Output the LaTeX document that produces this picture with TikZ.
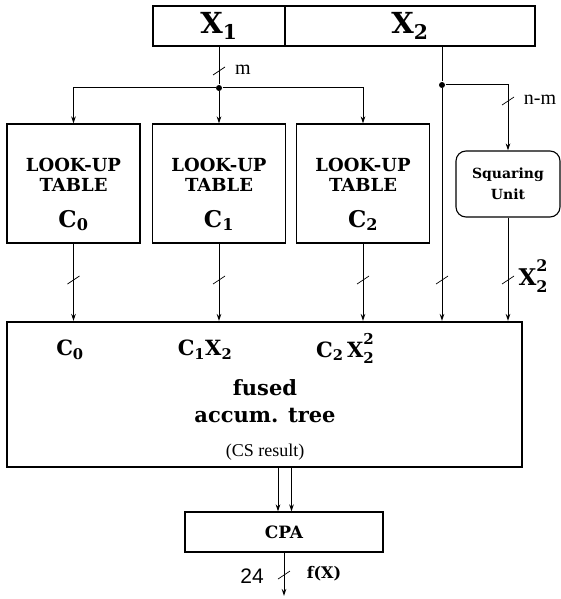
\documentclass[tikz,border=0pt]{standalone}
\usepackage{fontspec}
\newfontfamily\lab{DejaVu Serif}
\newfontfamily\tms{Liberation Serif}
\newfontfamily\hel{Liberation Sans}
\usetikzlibrary{arrows.meta}
\newcommand{\fs}[2]{\fontsize{#1}{#2}\selectfont}
\newcommand{\ssb}[3]{\rlap{\raisebox{-0.28em}{\fs{#3}{#3}#1}}\raisebox{0.62em}{\fs{#3}{#3}#2}}
\newcommand{\bus}[2]{\draw[busmark] ({#1-6},{#2+4}) -- ({#1+6},{#2-4});}
\begin{document}
\begin{tikzpicture}[x=1pt,y=-1pt,line width=1pt,
  boxst/.style={draw,line width=1.1pt,inner sep=0pt,align=center},
  lutbox/.style={boxst,minimum width=133pt,minimum height=119pt,font=\lab\bfseries\fs{18}{20}},
  arr/.style={-{Stealth[length=7pt,width=4.5pt]}},
  oarr/.style={-{Stealth[open,length=7pt,width=4.5pt]}},
  busmark/.style={line width=0.7pt},
  jdot/.style={circle,fill,inner sep=0pt,minimum size=6pt},
  lbl/.style={font=\lab\bfseries\fs{21}{24},inner sep=0pt}]
\useasboundingbox (0,0) rectangle (561,599);
% top register
\node[boxst,minimum width=132pt,minimum height=40pt,font=\lab\bfseries\fs{29}{30}] (x1) at (219,26) {X\textsubscript{1}};
\node[boxst,minimum width=250pt,minimum height=40pt,font=\lab\bfseries\fs{29}{30}] (x2) at (410,26) {X\textsubscript{2}};
% look-up tables
\node[lutbox] (lut1) at (73.5,183.5) {\rule{0pt}{35pt}LOOK-UP\\TABLE\\[16pt]{\fs{23}{24}C\textsubscript{0}}};
\node[lutbox] (lut2) at (219,183.5) {\rule{0pt}{35pt}LOOK-UP\\TABLE\\[16pt]{\fs{23}{24}C\textsubscript{1}}};
\node[lutbox] (lut3) at (363,183.5) {\rule{0pt}{35pt}LOOK-UP\\TABLE\\[16pt]{\fs{23}{24}C\textsubscript{2}}};
% squaring unit
\node[boxst,rounded corners=10pt,minimum width=104pt,minimum height=66pt,font=\lab\bfseries\fs{14}{21}] (sq) at (508,184) {Squaring\\Unit};
% main tree
\node[draw,line width=2pt,minimum width=515pt,minimum height=145pt,inner sep=0pt] (main) at (264.5,394.5) {};
\node[lbl] (t0) at (70,350) {C\textsubscript{0}};
\node[lbl] (t1) at (205,350) {C\textsubscript{1}X\textsubscript{2}};
\node[lbl] (t2) at (345,348) {C\textsubscript{2}\,X\ssb{2}{2}{15}};
\node[font=\lab\bfseries\fs{21}{27},align=center,inner sep=0pt] (tf) at (265,401) {fused\\accum. tree};
\node[font=\tms\fs{18}{20},inner sep=0pt] (tcs) at (265,452) {(CS result)};
% CPA
\node[boxst,minimum width=198pt,minimum height=40pt,font=\lab\bfseries\fs{17}{19}] (cpa) at (284,532) {CPA};
% junctions and coordinates
\node[jdot] (j1) at (219,88) {};
\node[jdot] (j2) at (442,85) {};
\coordinate (c2) at (442,0);
\coordinate (ca) at (278,0);
\coordinate (cb) at (291.5,0);
\coordinate (out) at (284,596);
% connectors
\draw (x1.south) -- (j1);
\draw[arr] (j1) -| (lut1.north);
\draw[arr] (j1) -- (lut2.north);
\draw[arr] (j1) -| (lut3.north);
\draw (c2 |- x2.south) -- (j2);
\draw[oarr] (j2) -- (c2 |- main.north);
\draw[arr] (j2) -| (sq.north);
\draw[arr] (lut1.south) -- (lut1.south |- main.north);
\draw[arr] (lut2.south) -- (lut2.south |- main.north);
\draw[arr] (lut3.south) -- (lut3.south |- main.north);
\draw[oarr] (sq.south) -- (sq.south |- main.north);
\draw[arr] (ca |- main.south) -- (ca |- cpa.north);
\draw[arr] (cb |- main.south) -- (cb |- cpa.north);
\draw[arr] (cpa.south) -- (out);
% bus width marks
\bus{219}{71}
\bus{508}{101}
\bus{73.5}{280}
\bus{219}{280}
\bus{363}{280}
\bus{442}{280}
\bus{508}{280}
\bus{284}{575}
% labels
\node[font=\tms\fs{20}{22},inner sep=0pt] (lm) at (243,70) {m};
\node[font=\tms\fs{20}{22},inner sep=0pt] (lnm) at (540,100) {n-m};
\node[font=\lab\bfseries\fs{23}{24},inner sep=0pt] (lx) at (533,276) {X\ssb{2}{2}{16}};
\node[font=\hel\fs{21}{22},inner sep=0pt] (l24) at (252,576) {24};
\node[font=\lab\bfseries\fs{16}{18},inner sep=0pt] (lfx) at (324,574) {f(X)};
\end{tikzpicture}
\end{document}
